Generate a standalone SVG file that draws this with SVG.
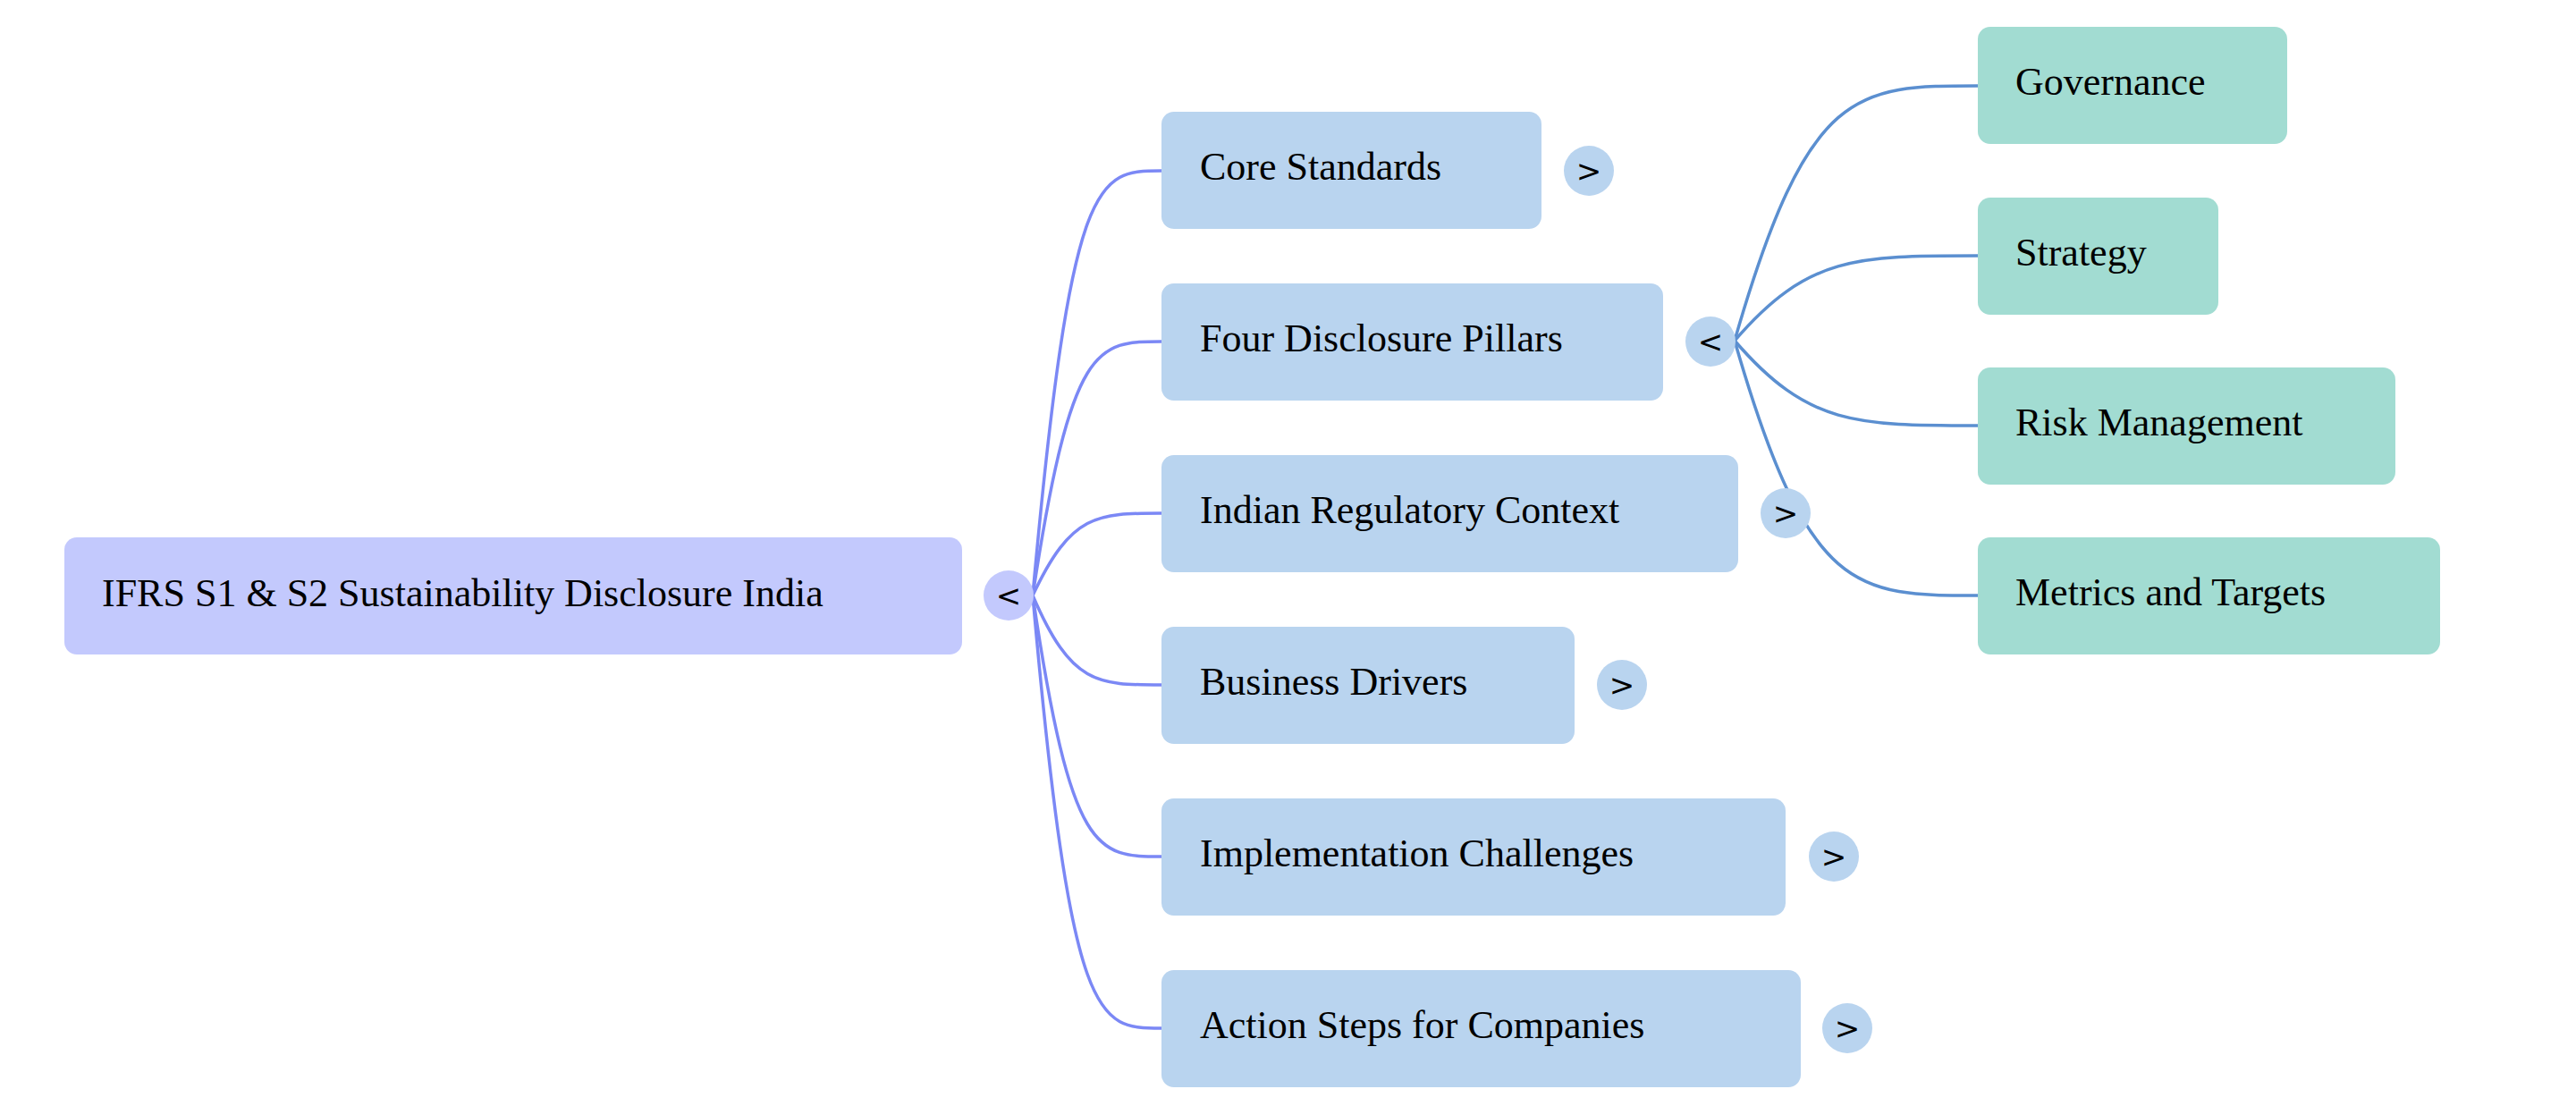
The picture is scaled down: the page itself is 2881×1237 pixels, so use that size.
<svg xmlns="http://www.w3.org/2000/svg" width="2881" height="1237" viewBox="0 0 2881 1237">
<style>
text{font-family:"Liberation Serif","Times New Roman",serif;font-size:44px;fill:#000}
.root{fill:#c3c9fd}.b{fill:#b9d4ef}.g{fill:#a2dcd2}
.e1{fill:none;stroke:#7b88f5;stroke-width:3.5}
.e2{fill:none;stroke:#5b8fd0;stroke-width:3.5}
.t{font-family:"DejaVu Sans",sans-serif;font-size:34px;text-anchor:middle}
</style>
<rect width="2881" height="1237" fill="#fff"/>
<g id="connectors">
<path class="e1" d="M1155,666 C1198,191 1227,191 1299,191"/>
<path class="e1" d="M1155,666 C1198,382 1227,382 1299,382"/>
<path class="e1" d="M1155,666 C1198,574 1227,574 1299,574"/>
<path class="e1" d="M1155,666 C1198,766 1227,766 1299,766"/>
<path class="e1" d="M1155,666 C1198,958 1227,958 1299,958"/>
<path class="e1" d="M1155,666 C1198,1150 1227,1150 1299,1150"/>
<path class="e2" d="M1940,381 C2022,96 2076,96 2212,96"/>
<path class="e2" d="M1940,381 C2022,286 2076,286 2212,286"/>
<path class="e2" d="M1940,381 C2022,476 2076,476 2212,476"/>
<path class="e2" d="M1940,381 C2022,666 2076,666 2212,666"/>
</g>
<g id="root"><rect class="root" x="72" y="601" width="1004" height="131" rx="14"/><text x="114" y="678">IFRS S1 &amp; S2 Sustainability Disclosure India</text>
<circle class="root" cx="1128" cy="666" r="28"/><text class="t" x="1128" y="678">&lt;</text></g>
<g id="n1"><rect class="b" x="1299" y="125" width="425" height="131" rx="14"/><text x="1342" y="201">Core Standards</text><circle class="b" cx="1777" cy="191" r="28"/><text class="t" x="1777" y="203">&gt;</text></g>
<g id="n2"><rect class="b" x="1299" y="317" width="561" height="131" rx="14"/><text x="1342" y="393">Four Disclosure Pillars</text><circle class="b" cx="1913" cy="382" r="28"/><text class="t" x="1913" y="394">&lt;</text></g>
<g id="n3"><rect class="b" x="1299" y="509" width="645" height="131" rx="14"/><text x="1342" y="585">Indian Regulatory Context</text><circle class="b" cx="1997" cy="574" r="28"/><text class="t" x="1997" y="586">&gt;</text></g>
<g id="n4"><rect class="b" x="1299" y="701" width="462" height="131" rx="14"/><text x="1342" y="777">Business Drivers</text><circle class="b" cx="1814" cy="766" r="28"/><text class="t" x="1814" y="778">&gt;</text></g>
<g id="n5"><rect class="b" x="1299" y="893" width="698" height="131" rx="14"/><text x="1342" y="969">Implementation Challenges</text><circle class="b" cx="2051" cy="958" r="28"/><text class="t" x="2051" y="970">&gt;</text></g>
<g id="n6"><rect class="b" x="1299" y="1085" width="715" height="131" rx="14"/><text x="1342" y="1161">Action Steps for Companies</text><circle class="b" cx="2066" cy="1150" r="28"/><text class="t" x="2066" y="1162">&gt;</text></g>
<g id="g1"><rect class="g" x="2212" y="30" width="346" height="131" rx="14"/><text x="2254" y="106">Governance</text></g>
<g id="g2"><rect class="g" x="2212" y="221" width="269" height="131" rx="14"/><text x="2254" y="297">Strategy</text></g>
<g id="g3"><rect class="g" x="2212" y="411" width="467" height="131" rx="14"/><text x="2254" y="487">Risk Management</text></g>
<g id="g4"><rect class="g" x="2212" y="601" width="517" height="131" rx="14"/><text x="2254" y="677">Metrics and Targets</text></g>
</svg>
